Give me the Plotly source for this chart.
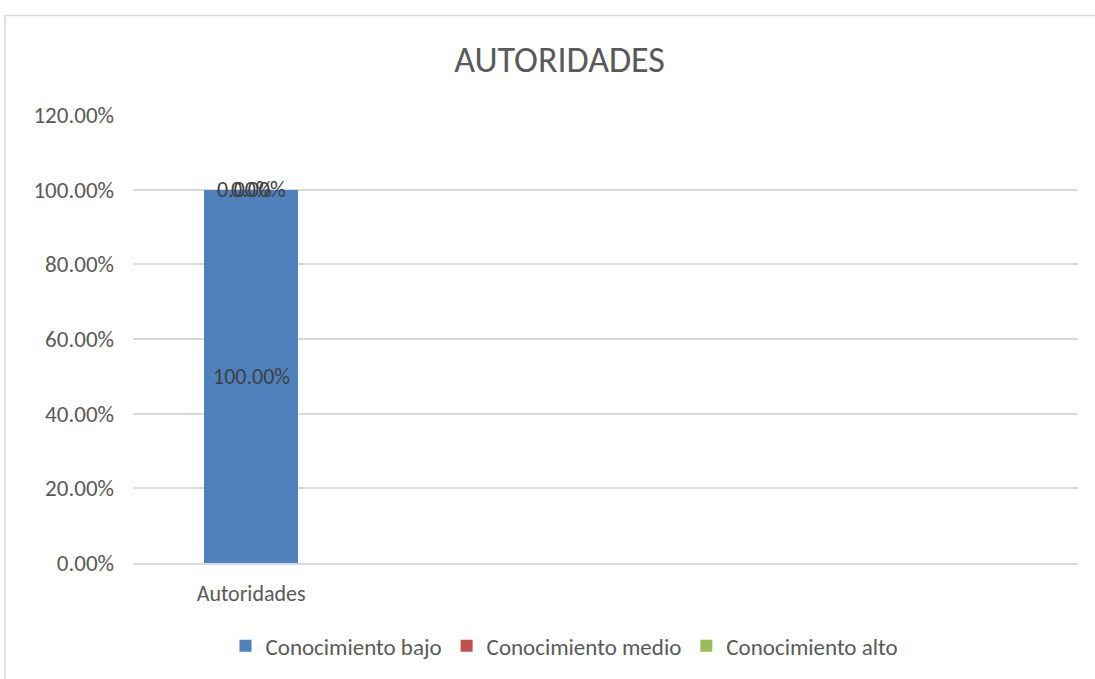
import plotly.graph_objects as go

categories = ["Autoridades"]
series_names = ["Conocimiento bajo", "Conocimiento medio", "Conocimiento alto"]
series_values = [[1.00], [0.00], [0.00]]
series_colors = ["#4F81BD", "#C0504D", "#9BBB59"]
y_ticks = [0, 0.2, 0.4, 0.6, 0.8, 1.0, 1.2]

FONT = "Calibri, Carlito, Lato, sans-serif"
TXT = "#595959"

fig = go.Figure()
for name, vals, col in zip(series_names, series_values, series_colors):
    fig.add_trace(go.Bar(x=categories, y=vals, name=name, marker_color=col,
                         width=0.4, marker_line_width=0))

# data labels
cum = [0.0] * len(categories)
shifts = [0, -7, 7]
for si, vals in enumerate(series_values):
    for ci, v in enumerate(vals):
        fig.add_annotation(x=categories[ci], y=cum[ci] + v / 2, text=f"{v*100:.2f}%",
                           showarrow=False, xshift=shifts[si],
                           font=dict(family=FONT, size=22, color="#404040"))
        cum[ci] += v

fig.add_shape(type="rect", xref="paper", yref="paper", x0=-0.1354, x1=1.05, y0=-0.4, y1=1.2222,
              line=dict(color="#D9D9D9", width=1.5), layer="below")

fig.update_layout(
    width=1095, height=679,
    margin=dict(l=133, r=17, t=115, b=114),
    paper_bgcolor="white", plot_bgcolor="white",
    barmode="stack",
    title=dict(text="AUTORIDADES", x=0.511, xanchor="center", y=0.912, yanchor="middle",
               font=dict(family=FONT, size=36, color=TXT)),
    font=dict(family=FONT, size=22, color=TXT),
    xaxis=dict(type="category", range=[-0.5, 3.5], showgrid=False, ticks="",
               showline=True, linecolor="#D9D9D9", linewidth=1.5,
               ticklabelstandoff=10,
               tickfont=dict(family=FONT, size=22, color=TXT)),
    yaxis=dict(range=[0, 1.2], tickvals=y_ticks, tickformat=".2%", showgrid=True,
               gridcolor="#D9D9D9", gridwidth=1.5, zeroline=False, ticks="",
               ticklabelstandoff=18,
               tickfont=dict(family=FONT, size=23, color=TXT)),
    legend=dict(orientation="h", x=0.4566, xanchor="center", y=-0.185, yanchor="middle",
                font=dict(family=FONT, size=23, color=TXT), traceorder="normal",
                itemwidth=30),
    bargap=0.6,
)

fig.write_html("out.html", post_script="document.body.style.margin='0';",
               config={"displayModeBar": False})
